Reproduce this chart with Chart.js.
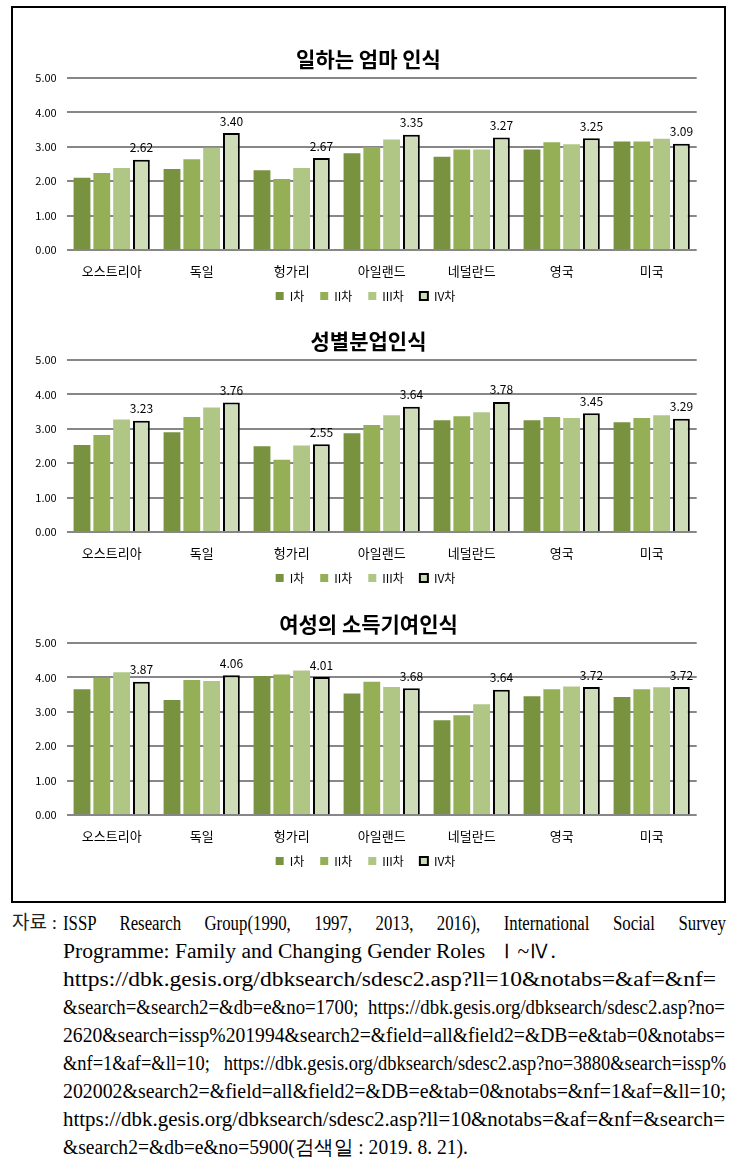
<!DOCTYPE html>
<html lang="ko">
<head>
<meta charset="utf-8">
<script src="https://cdn.jsdelivr.net/npm/chart.js@4.4.1/dist/chart.umd.min.js"></script>
<style>
  body { margin: 0; background: #fff; width: 741px; height: 1174px; position: relative; overflow: hidden; }
  #frame { position: absolute; left: 11px; top: 6px; width: 715px; height: 897px; box-sizing: border-box; border: 2px solid #000; }
  canvas { position: absolute; left: 11px; }
  .note { position: absolute; left: 63px; font-family: 'Liberation Serif', serif; font-size: 20px; line-height: 28px; white-space: nowrap; color: #000; }
  .note span { display: inline-block; transform-origin: 0 50%; }
  #srcLabel { position: absolute; left: 12px; top: 909px; font-family: 'Liberation Serif', 'Noto Sans CJK KR', serif; font-size: 19px; line-height: 28px; color: #222; }
</style>
</head>
<body>
<div id="frame"></div>
<canvas id="chart1" width="715" height="282" style="top:30px"></canvas>
<canvas id="chart2" width="715" height="282" style="top:312px"></canvas>
<canvas id="chart3" width="715" height="282" style="top:595px"></canvas>

<div id="srcLabel">자료 :</div>
<div class="note" style="top:909px"><span data-w="663" data-cond="0.84">ISSP Research Group(1990, 1997, 2013, 2016), International Social Survey</span></div>
<div class="note" style="top:937px"><span data-w="493">Programme: Family and Changing Gender Roles &nbsp;Ⅰ~Ⅳ.</span></div>
<div class="note" style="top:965px"><span data-w="653">https://dbk.gesis.org/dbksearch/sdesc2.asp?ll=10&amp;notabs=&amp;af=&amp;nf=</span></div>
<div class="note" style="top:993px"><span data-w="662">&amp;search=&amp;search2=&amp;db=e&amp;no=1700; &nbsp;https://dbk.gesis.org/dbksearch/sdesc2.asp?no=</span></div>
<div class="note" style="top:1021px"><span data-w="662">2620&amp;search=issp%201994&amp;search2=&amp;field=all&amp;field2=&amp;DB=e&amp;tab=0&amp;notabs=</span></div>
<div class="note" style="top:1049px"><span data-w="663">&amp;nf=1&amp;af=&amp;ll=10; &nbsp; https://dbk.gesis.org/dbksearch/sdesc2.asp?no=3880&amp;search=issp%</span></div>
<div class="note" style="top:1077px"><span data-w="663">202002&amp;search2=&amp;field=all&amp;field2=&amp;DB=e&amp;tab=0&amp;notabs=&amp;nf=1&amp;af=&amp;ll=10;</span></div>
<div class="note" style="top:1105px"><span data-w="662">https://dbk.gesis.org/dbksearch/sdesc2.asp?ll=10&amp;notabs=&amp;af=&amp;nf=&amp;search=</span></div>
<div class="note" style="top:1133px"><span data-w="405">&amp;search2=&amp;db=e&amp;no=5900(검색일 : 2019. 8. 21).</span></div>

<script>
'use strict';
let countries = ['오스트리아', '독일', '헝가리', '아일랜드', '네덜란드', '영국', '미국'];
let waves = ['I차', 'II차', 'III차', 'IV차'];
let yTicks = [0, 1, 2, 3, 4, 5];

// 일하는 엄마 인식
let momWave1 = [2.10, 2.35, 2.32, 2.81, 2.71, 2.92, 3.15];
let momWave2 = [2.24, 2.64, 2.06, 2.99, 2.92, 3.13, 3.15];
let momWave3 = [2.38, 2.97, 2.38, 3.21, 2.92, 3.07, 3.23];
let momWave4 = [2.62, 3.40, 2.67, 3.35, 3.27, 3.25, 3.09];

// 성별분업인식
let roleWave1 = [2.53, 2.90, 2.49, 2.87, 3.25, 3.25, 3.19];
let roleWave2 = [2.82, 3.34, 2.10, 3.11, 3.36, 3.34, 3.31];
let roleWave3 = [3.27, 3.62, 2.51, 3.39, 3.48, 3.31, 3.39];
let roleWave4 = [3.23, 3.76, 2.55, 3.64, 3.78, 3.45, 3.29];

// 여성의 소득기여인식
let incomeWave1 = [3.65, 3.34, 4.04, 3.53, 2.75, 3.45, 3.43];
let incomeWave2 = [3.99, 3.92, 4.08, 3.87, 2.90, 3.65, 3.65];
let incomeWave3 = [4.15, 3.89, 4.20, 3.72, 3.22, 3.73, 3.71];
let incomeWave4 = [3.87, 4.06, 4.01, 3.68, 3.64, 3.72, 3.72];

let barColors = ['#78923f', '#94af55', '#b0c685', '#cedcb8'];

Chart.defaults.font.family = "'Noto Sans CJK KR', 'Noto Sans', sans-serif";
Chart.defaults.color = '#000';

// value labels over the IV차 bars
const lastWaveLabels = {
    id: 'lastWaveLabels',
    afterDatasetsDraw(chart) {
        let ctx = chart.ctx;
        let meta = chart.getDatasetMeta(3);
        let values = chart.data.datasets[3].data;
        ctx.save();
        ctx.font = "12px 'Noto Sans CJK KR', sans-serif";
        ctx.fillStyle = '#000';
        ctx.textAlign = 'center';
        ctx.textBaseline = 'middle';
        meta.data.forEach((bar, i) => {
            ctx.fillText(values[i].toFixed(2), bar.x, bar.y - 12);
        });
        ctx.restore();
    }
};

function makeChart(id, title, series) {
    let datasets = series.map((data, i) => ({
        label: waves[i],
        data: data,
        yAxisID: 'y',
        backgroundColor: barColors[i],
        borderColor: i === 3 ? '#000' : barColors[i],
        borderWidth: i === 3 ? 2 : 0,
        categoryPercentage: 0.88,
        barPercentage: 0.85
    }));
    return new Chart(document.getElementById(id), {
        type: 'bar',
        data: { labels: countries, datasets: datasets },
        plugins: [lastWaveLabels],
        options: {
            responsive: false,
            animation: false,
            layout: { padding: 0 },
            plugins: {
                title: {
                    display: true,
                    text: title,
                    font: { size: 21, weight: 'bold' },
                    color: '#000',
                    padding: { top: 16, bottom: 6.7 }
                },
                legend: {
                    position: 'bottom',
                    labels: {
                        boxWidth: 8, boxHeight: 8, padding: 10, font: { size: 12 }, color: '#000',
                        // a little extra room after each item, as in the original legend
                        generateLabels: (chart) => Chart.defaults.plugins.legend.labels.generateLabels(chart)
                            .map(item => Object.assign(item, { text: item.text + '\u2002' }))
                    }
                },
                tooltip: { enabled: false }
            },
            scales: {
                x: {
                    grid: { display: false, drawTicks: false },
                    border: { display: false },
                    ticks: { padding: 13, font: { size: 13 }, color: '#000' },
                    afterFit: (s) => { s.height = 30; }
                },
                y: {
                    min: 0,
                    max: 5,
                    afterBuildTicks: (s) => { s.ticks = yTicks.map(v => ({ value: v })); },
                    grid: { color: '#878787', lineWidth: 2, drawTicks: false },
                    border: { display: false },
                    ticks: { padding: 10, font: { size: 11 }, color: '#000', callback: (v) => Number(v).toFixed(2) },
                    afterFit: (s) => { s.width = 55.7; }
                },
                // empty spacer on the right so the plot sits where the original does
                spacer: {
                    type: 'linear',
                    position: 'right',
                    grid: { display: false, drawTicks: false },
                    border: { display: false },
                    ticks: { display: false },
                    afterFit: (s) => { s.width = 29.3; }
                }
            }
        }
    });
}

makeChart('chart1', '일하는 엄마 인식', [momWave1, momWave2, momWave3, momWave4]);
makeChart('chart2', '성별분업인식', [roleWave1, roleWave2, roleWave3, roleWave4]);
makeChart('chart3', '여성의 소득기여인식', [incomeWave1, incomeWave2, incomeWave3, incomeWave4]);

// fit each source line to its width like the justified print
document.querySelectorAll('.note span').forEach(sp => {
    let target = Number(sp.dataset.w);
    let cond = sp.dataset.cond ? Number(sp.dataset.cond) : 0;
    let natural = sp.getBoundingClientRect().width;
    if (cond) {
        let spaces = (sp.textContent.match(/ /g) || []).length;
        let ws = (target / cond - natural) / spaces;
        sp.style.wordSpacing = ws + 'px';
        sp.style.transform = 'scaleX(' + cond + ')';
    } else {
        sp.style.transform = 'scaleX(' + (target / natural) + ')';
    }
});
</script>
</body>
</html>
